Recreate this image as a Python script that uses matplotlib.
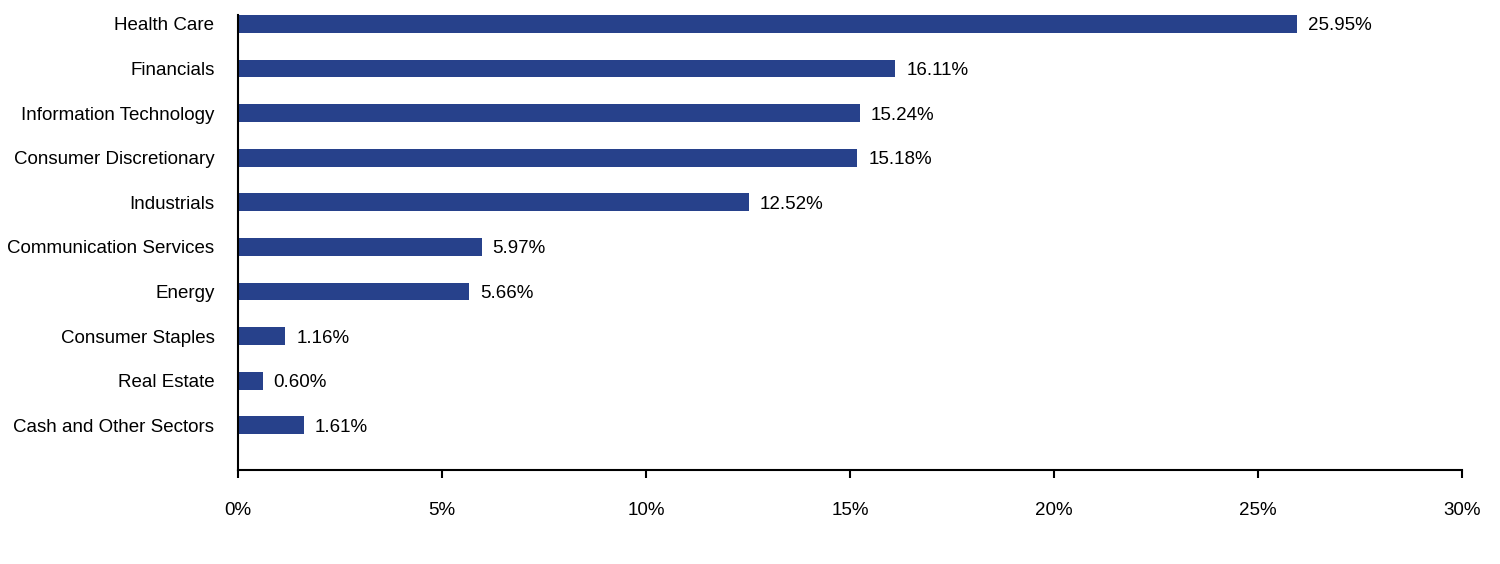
import matplotlib
matplotlib.use("Agg")
import matplotlib.pyplot as plt
from matplotlib.ticker import FuncFormatter

plt.rcParams['font.family'] = ['Liberation Sans', 'DejaVu Sans']

sectors = ["Health Care", "Financials", "Information Technology", "Consumer Discretionary",
           "Industrials", "Communication Services", "Energy", "Consumer Staples",
           "Real Estate", "Cash and Other Sectors"]
weights = [25.95, 16.11, 15.24, 15.18, 12.52, 5.97, 5.66, 1.16, 0.60, 1.61]
xticks = [0, 5, 10, 15, 20, 25, 30]

fig = plt.figure(figsize=(15, 5.64), dpi=100)
ax = fig.add_axes([0.1587, 0.1667, 0.816, 0.8067])

pos = list(range(len(sectors)))
ax.barh(pos, weights, height=0.4, color="#27418b")
for p, w in zip(pos, weights):
    ax.text(w + 0.27, p, f"{w:.2f}%", va="center_baseline", ha="left", fontsize=13.5, color="black")

ax.set_yticks(pos)
ax.set_yticklabels(sectors, fontsize=13.5)
ax.set_ylim(10, -0.2)
ax.set_xlim(0, 30)
ax.set_xticks(xticks)
ax.xaxis.set_major_formatter(FuncFormatter(lambda v, _: f"{v:.0f}%"))
ax.tick_params(axis="x", length=6, width=1.5, pad=17, labelsize=13.5)
ax.tick_params(axis="y", length=0, pad=17)

for s in ["top", "right"]:
    ax.spines[s].set_visible(False)
for s in ["left", "bottom"]:
    ax.spines[s].set_linewidth(1.5)

fig.savefig("out.png", dpi=100)
